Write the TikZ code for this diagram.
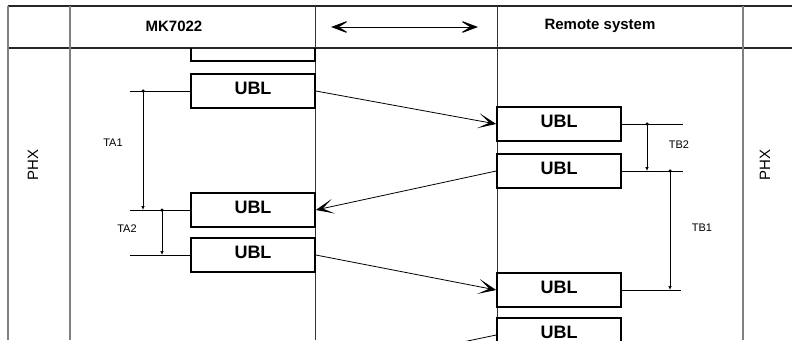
\documentclass[tikz,border=0pt]{standalone}
\usepackage{fontspec}
\setmainfont{Liberation Sans}
\usetikzlibrary{arrows.meta, positioning}

\begin{document}
\begin{tikzpicture}[
    x=1pt, y=-1pt,
    ubl/.style={rectangle, draw, line width=1.6pt, inner sep=0pt, minimum width=124pt, minimum height=34pt, text depth=6pt, font=\fontsize{18}{20}\selectfont\bfseries},
    head/.style={font=\fontsize{15}{18}\selectfont\bfseries},
    side/.style={rotate=90, font=\fontsize{15}{18}\selectfont},
    tlabel/.style={font=\fontsize{11}{13}\selectfont},
    rule/.style={line width=1.4pt, black!85},
    border/.style={line width=1.6pt, black!50},
    lane/.style={line width=0.8pt, black!80},
    msg/.style={-{Stealth[length=18pt, width=15pt, inset=11pt, line width=1pt]}, line width=0.8pt},
    dbl/.style={>={Stealth[length=20pt, width=15pt, inset=12pt, line width=1pt]}, <->, line width=0.8pt},
    timing/.style={-{Latex[length=4pt, width=3.5pt]}, line width=0.7pt},
    tick/.style={line width=0.7pt},
    dot/.style={circle, fill, inner sep=0pt, minimum size=3.5pt}
]
\useasboundingbox (0,0) rectangle (792,340);
\clip (0,0) rectangle (792,340);

% Frame
\draw [rule] (8,6) -- (792,6);
\draw [rule] (8,48) -- (792,48);
\draw [border] (8,6) -- (8,340);
\draw [border] (70,6) -- (70,340);
\draw [border] (743,6) -- (743,340);
\draw [lane] (315,6) -- (315,340);
\draw [lane] (497,6) -- (497,340);

% Header
\node [head] (mk) at (174,26) {MK7022};
\node [head] (remote) at (600,26) {Remote system};
\coordinate (hl) at (331,27);
\coordinate (hr) at (478,27);
\draw [dbl] (hl) -- (hr);

% Side labels
\node [side] (phxl) at (33,165) {PHX};
\node [side] (phxr) at (765,165) {PHX};

% MK7022 frames
\begin{scope}
\clip (180,48) rectangle (330,70);
\node [ubl] (l0) at (253,44) {UBL};
\end{scope}
\node [ubl] (l1) at (253,91) {UBL};
\node [ubl] (l2) at (253,210) {UBL};
\node [ubl] (l3) at (253,255) {UBL};

% Remote system frames
\node [ubl] (r1) at (559,124) {UBL};
\node [ubl] (r2) at (559,171) {UBL};
\node [ubl] (r3) at (559,290) {UBL};
\node [ubl] (r4) at (559,335) {UBL};

% Messages
\draw [msg] (l1.east) -- (r1.west);
\draw [msg] (r2.west) -- (l2.east);
\draw [msg] (l3.east) -- (r3.west);
\coordinate (out) at (315,373);
\draw [msg] (r4.west) -- (out);

% Timing TA1, TA2
\coordinate (a1) at (130,91);
\coordinate (a2) at (130,210);
\coordinate (a3) at (130,255);
\draw [tick] (a1) -- (l1.west);
\draw [tick] (a2) -- (l2.west);
\draw [tick] (a3) -- (l3.west);
\node [dot] (da1) at (143,91) {};
\node [dot] (da2) at (162,210) {};
\draw [timing] (da1.center) -- (da1 |- l2);
\draw [timing] (da2.center) -- (da2 |- l3);
\node [tlabel] (ta1) at (113,143) {TA1};
\node [tlabel] (ta2) at (127,229) {TA2};

% Timing TB2, TB1
\coordinate (b1) at (683,124);
\coordinate (b2) at (683,171);
\coordinate (b3) at (681,290);
\draw [tick] (r1.east) -- (b1);
\draw [tick] (r2.east) -- (b2);
\draw [tick] (r3.east) -- (b3);
\node [dot] (db2) at (647,124) {};
\node [dot] (db1) at (670,171) {};
\draw [timing] (db2.center) -- (db2 |- r2);
\draw [timing] (db1.center) -- (db1 |- r3);
\node [tlabel] (tb2) at (679,145) {TB2};
\node [tlabel] (tb1) at (702,228) {TB1};

\end{tikzpicture}
\end{document}
